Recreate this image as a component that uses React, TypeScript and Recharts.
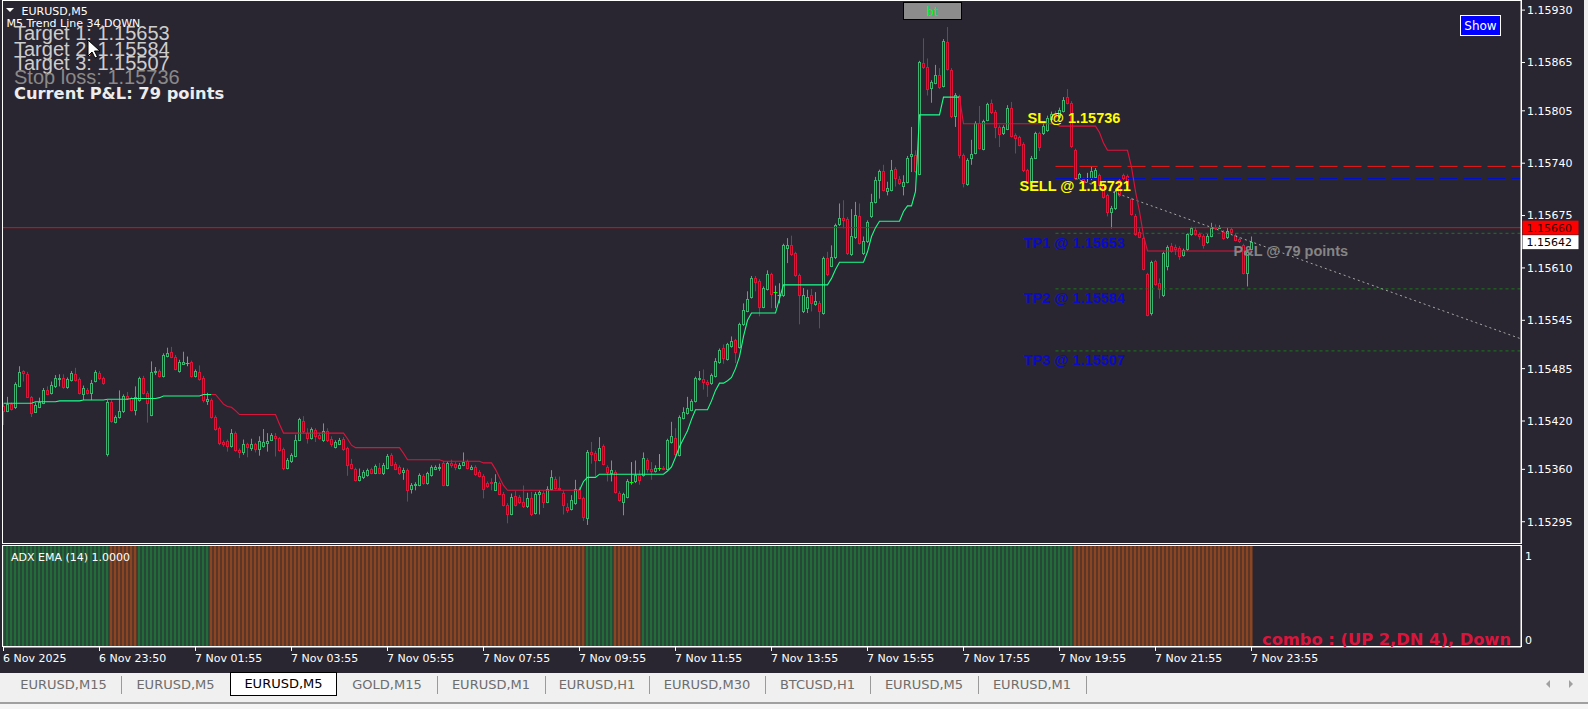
import React from 'react';
import { ComposedChart, Bar, Line, XAxis, YAxis, ReferenceLine, ReferenceDot, Cell } from 'recharts';

// prices are kept in points above 1.15000 (1 point = 0.00001)
const BASE = 1.15;

const opens = [
  439, 433, 441, 437, 464, 482, 478, 450, 431, 438, 442, 458, 455, 463, 472, 474, 462, 471, 478, 472,
  454, 458, 455, 470, 480, 473, 379, 444, 419, 425, 432, 451, 448, 434, 446, 473, 455, 428, 481, 482,
  476, 501, 506, 500, 482, 491, 492, 493, 476, 481, 474, 445, 446, 425, 411, 394, 395, 389, 405, 384,
  382, 391, 387, 391, 385, 389, 393, 397, 401, 399, 385, 362, 370, 377, 397, 420, 405, 399, 409, 403,
  396, 407, 398, 388, 392, 398, 386, 367, 360, 347, 350, 353, 360, 356, 362, 355, 362, 378, 367, 363,
  357, 359, 336, 341, 341, 352, 343, 353, 361, 362, 368, 341, 368, 367, 362, 366, 370, 361, 363, 357,
  352, 343, 344, 335, 343, 330, 316, 305, 327, 326, 320, 314, 324, 306, 330, 331, 320, 336, 348, 337,
  331, 313, 311, 318, 336, 324, 300, 381, 380, 372, 389, 363, 356, 357, 331, 320, 326, 344, 345, 353,
  353, 372, 360, 358, 362, 362, 361, 394, 399, 378, 424, 430, 434, 445, 472, 472, 469, 467, 476, 493,
  511, 497, 513, 520, 512, 540, 557, 574, 598, 594, 562, 584, 602, 580, 576, 576, 635, 638, 628, 601,
  556, 560, 577, 565, 567, 554, 622, 613, 623, 664, 672, 671, 627, 648, 675, 628, 643, 674, 692, 719,
  730, 706, 707, 733, 720, 712, 717, 749, 750, 727, 864, 860, 833, 840, 850, 836, 890, 856, 798, 823,
  750, 714, 746, 753, 790, 758, 794, 815, 804, 785, 777, 783, 808, 775, 772, 764, 731, 717, 747, 777,
  777, 781, 795, 801, 797, 805, 822, 815, 756, 722, 720, 722, 721, 723, 725, 713, 700, 679, 684, 719,
  725, 724, 695, 675, 655, 647, 602, 554, 618, 591, 576, 613, 637, 636, 635, 626, 633, 652, 657, 652,
  650, 642, 650, 661, 660, 655, 648, 658, 651, 646, 638, 604, 634,
];

const highs = [
  441, 450, 443, 468, 488, 483, 481, 451, 443, 449, 461, 463, 469, 477, 478, 478, 474, 482, 486, 474,
  464, 461, 471, 483, 482, 475, 446, 446, 427, 458, 453, 456, 450, 463, 475, 476, 457, 494, 487, 484,
  504, 511, 512, 502, 496, 506, 500, 495, 484, 489, 476, 455, 448, 427, 413, 396, 397, 410, 407, 386,
  397, 393, 398, 393, 401, 410, 405, 405, 405, 400, 387, 374, 380, 403, 424, 426, 411, 412, 411, 405,
  417, 411, 401, 396, 399, 400, 388, 373, 362, 361, 359, 361, 362, 366, 368, 368, 379, 380, 369, 365,
  362, 361, 343, 344, 355, 354, 357, 365, 365, 367, 370, 370, 372, 369, 368, 381, 372, 365, 365, 359,
  354, 345, 349, 354, 345, 332, 318, 330, 333, 328, 340, 331, 332, 332, 334, 333, 339, 359, 351, 351,
  333, 318, 328, 347, 338, 326, 384, 394, 383, 400, 391, 365, 371, 359, 333, 331, 348, 369, 371, 359,
  381, 374, 369, 365, 379, 364, 398, 419, 411, 427, 437, 450, 447, 475, 482, 484, 471, 479, 498, 510,
  515, 517, 525, 522, 542, 566, 581, 600, 600, 596, 587, 607, 604, 588, 591, 640, 647, 650, 630, 603,
  585, 583, 584, 580, 569, 624, 630, 638, 665, 690, 694, 673, 683, 692, 690, 649, 669, 702, 723, 732,
  738, 717, 744, 735, 724, 725, 749, 785, 756, 867, 895, 870, 843, 862, 858, 894, 909, 858, 827, 825,
  752, 746, 769, 792, 811, 794, 815, 819, 806, 787, 787, 812, 816, 777, 774, 766, 733, 749, 779, 779,
  791, 799, 804, 805, 809, 822, 832, 817, 758, 728, 722, 728, 736, 734, 727, 715, 702, 687, 707, 721,
  727, 726, 697, 677, 659, 649, 604, 619, 620, 597, 630, 638, 641, 639, 637, 634, 653, 661, 661, 654,
  652, 652, 666, 664, 663, 657, 660, 660, 653, 648, 640, 632, 649,
];

const lows = [
  415, 431, 433, 435, 462, 469, 449, 425, 430, 436, 441, 452, 453, 461, 463, 460, 460, 469, 469, 453,
  446, 453, 446, 468, 471, 465, 376, 418, 417, 423, 430, 446, 432, 427, 444, 453, 418, 426, 477, 474,
  474, 499, 498, 483, 480, 490, 488, 474, 474, 470, 443, 440, 423, 408, 390, 388, 382, 387, 382, 374,
  378, 375, 383, 381, 377, 387, 382, 395, 376, 382, 359, 360, 368, 375, 395, 405, 392, 397, 394, 397,
  394, 394, 388, 386, 390, 383, 352, 360, 345, 345, 348, 351, 354, 354, 354, 353, 360, 364, 359, 353,
  347, 320, 330, 334, 339, 341, 341, 351, 359, 358, 339, 339, 362, 359, 360, 364, 360, 359, 352, 350,
  324, 337, 334, 333, 328, 314, 293, 303, 314, 317, 312, 312, 302, 304, 304, 312, 318, 334, 335, 334,
  304, 306, 309, 316, 323, 296, 291, 367, 351, 370, 365, 345, 345, 330, 320, 303, 324, 341, 343, 341,
  351, 356, 347, 356, 358, 359, 359, 392, 377, 376, 422, 428, 432, 443, 470, 459, 450, 465, 474, 491,
  491, 495, 511, 492, 510, 538, 555, 572, 581, 550, 560, 582, 560, 560, 566, 574, 616, 625, 599, 540,
  554, 554, 556, 563, 535, 552, 600, 611, 621, 662, 659, 626, 625, 646, 639, 626, 641, 672, 690, 696,
  705, 700, 705, 711, 713, 700, 715, 729, 728, 725, 857, 824, 815, 838, 832, 834, 855, 796, 785, 746,
  710, 712, 738, 751, 757, 756, 792, 801, 771, 760, 775, 781, 772, 752, 761, 729, 715, 715, 745, 755,
  775, 779, 792, 794, 795, 803, 813, 759, 719, 720, 715, 716, 719, 721, 711, 696, 674, 659, 682, 698,
  719, 711, 675, 650, 647, 607, 550, 551, 588, 572, 574, 607, 629, 626, 620, 624, 631, 650, 650, 645,
  634, 640, 648, 657, 659, 645, 646, 653, 643, 641, 602, 587, 632,
];

const closes = [
  433, 441, 435, 466, 481, 480, 450, 430, 440, 444, 459, 454, 465, 473, 473, 462, 472, 479, 471, 455,
  461, 455, 467, 481, 473, 467, 444, 420, 425, 432, 451, 448, 434, 450, 473, 455, 442, 481, 482, 476,
  502, 505, 500, 485, 493, 493, 492, 476, 482, 472, 446, 447, 425, 410, 393, 392, 389, 405, 384, 382,
  391, 388, 392, 385, 395, 394, 395, 403, 399, 384, 362, 372, 378, 397, 422, 407, 399, 410, 402, 399,
  408, 396, 392, 394, 397, 385, 366, 362, 347, 352, 357, 359, 356, 364, 356, 365, 377, 366, 361, 355,
  359, 335, 341, 342, 353, 343, 355, 363, 363, 363, 341, 368, 365, 363, 366, 369, 362, 363, 354, 352,
  336, 339, 343, 344, 330, 316, 305, 326, 316, 319, 314, 325, 305, 330, 332, 319, 336, 350, 337, 336,
  316, 310, 322, 336, 325, 301, 382, 379, 372, 387, 367, 357, 359, 332, 322, 329, 346, 344, 353, 347,
  374, 361, 358, 362, 362, 361, 396, 401, 379, 425, 431, 436, 445, 473, 474, 469, 466, 477, 494, 508,
  498, 515, 519, 506, 540, 558, 572, 597, 593, 562, 585, 602, 578, 580, 576, 638, 638, 627, 601, 576,
  576, 574, 566, 569, 556, 622, 602, 623, 663, 672, 670, 628, 650, 676, 641, 643, 667, 692, 719, 730,
  707, 709, 732, 721, 715, 717, 747, 751, 730, 865, 859, 832, 841, 850, 834, 892, 857, 798, 825, 750,
  715, 744, 752, 790, 759, 792, 813, 803, 785, 776, 785, 809, 774, 771, 763, 731, 717, 747, 777, 760,
  786, 796, 801, 797, 806, 818, 815, 761, 721, 726, 717, 722, 730, 731, 713, 698, 680, 685, 705, 700,
  721, 713, 677, 652, 649, 609, 552, 617, 590, 584, 628, 636, 631, 633, 625, 632, 652, 659, 652, 650,
  638, 650, 660, 659, 661, 647, 656, 655, 645, 643, 604, 630, 642,
];

// "M5 Trend Line 34" value per bar
const trend = [
  442, 442, 442, 442, 442, 442, 442, 442, 444, 444, 444, 444, 444, 444, 445, 445, 445, 445, 445, 445,
  446, 446, 446, 446, 446, 446, 447, 447, 447, 447, 447, 447, 448, 448, 448, 448, 448, 448, 448, 449,
  451, 451, 451, 451, 451, 451, 451, 451, 451, 451, 453, 453, 453, 453, 447, 441, 438, 437, 433, 428,
  428, 428, 428, 428, 428, 428, 428, 428, 428, 416, 405, 405, 405, 405, 405, 405, 405, 405, 405, 405,
  405, 405, 405, 405, 405, 405, 398, 390, 387, 387, 387, 387, 387, 387, 387, 387, 387, 387, 387, 387,
  380, 372, 372, 372, 372, 372, 372, 372, 372, 372, 370, 370, 370, 370, 370, 370, 370, 370, 370, 370,
  368, 368, 368, 360, 350, 340, 334, 334, 334, 334, 334, 334, 334, 334, 334, 334, 334, 334, 334, 334,
  334, 334, 334, 334, 334, 345, 350, 350, 350, 354, 354, 354, 354, 354, 354, 354, 354, 354, 354, 354,
  354, 354, 354, 354, 354, 354, 358, 363, 375, 388, 398, 408, 422, 434, 434, 434, 434, 445, 458, 467,
  467, 470, 474, 485, 500, 525, 545, 554, 554, 554, 554, 554, 554, 554, 572, 589, 589, 589, 589, 589,
  589, 589, 589, 589, 589, 589, 589, 597, 608, 617, 617, 617, 617, 617, 617, 617, 630, 649, 660, 668,
  668, 668, 668, 668, 668, 680, 687, 687, 705, 800, 800, 800, 800, 800, 800, 822, 822, 822, 822, 822,
  789, 789, 789, 789, 789, 789, 789, 789, 789, 789, 789, 789, 789, 789, 789, 789, 789, 789, 789, 789,
  789, 789, 789, 789, 786, 786, 786, 786, 786, 786, 786, 786, 786, 786, 778, 765, 756, 756, 756, 756,
  756, 756, 735, 705, 680, 650, 631, 631, 631, 631, 631, 631, 631, 631, 631, 631, 631, 631, 631, 631,
  631, 631, 631, 631, 631, 631, 631, 631, 631, 631, 631, 631, 631,
];
const trendDownRanges = [[53, 144], [240, 312]];

// ADX EMA histogram state runs (bar index ranges)
const adxRuns = [
  { state: 'up', from: 0, to: 26 },
  { state: 'dn', from: 27, to: 33 },
  { state: 'up', from: 34, to: 51 },
  { state: 'dn', from: 52, to: 145 },
  { state: 'up', from: 146, to: 152 },
  { state: 'dn', from: 153, to: 159 },
  { state: 'up', from: 160, to: 267 },
  { state: 'dn', from: 268, to: 312 },
];

const priceTicks = [1.1593, 1.15865, 1.15805, 1.1574, 1.15675, 1.1561, 1.15545, 1.15485, 1.1542, 1.1536, 1.15295];
const timeTickBars = [0, 24, 48, 72, 96, 120, 144, 168, 192, 216, 240, 264, 288, 312];
const timeTickLabels = [
  '6 Nov 2025', '6 Nov 23:50', '7 Nov 01:55', '7 Nov 03:55', '7 Nov 05:55', '7 Nov 07:55', '7 Nov 09:55',
  '7 Nov 11:55', '7 Nov 13:55', '7 Nov 15:55', '7 Nov 17:55', '7 Nov 19:55', '7 Nov 21:55', '7 Nov 23:55',
];

// trade levels drawn from LEVEL_START to the right edge
const LEVEL_START = 263;
const levels = [
  { name: 'SL', price: 1.15736, color: '#f01818', dash: '18 6' },
  { name: 'SELL', price: 1.15721, color: '#0010d0', dash: '18 6' },
  { name: 'TP1', price: 1.15653, color: '#187a18', dash: '3 3' },
  { name: 'TP2', price: 1.15584, color: '#187a18', dash: '3 3' },
  { name: 'TP3', price: 1.15507, color: '#187a18', dash: '3 3' },
];
const entryTrend = [{ bar: 268, price: 1.15721 }, { bar: 379.375, price: 1.15522 }];
const hLinePrice = 1.1566;
const lastPrice = 1.15642;

const chartLabels = [
  { text: 'SL @ 1.15736', bar: 256, price: 1.1579, color: '#ffff00' },
  { text: 'SELL @ 1.15721', bar: 254, price: 1.15705, color: '#ffff00' },
  { text: 'TP1 @ 1.15653', bar: 255, price: 1.15635, color: '#0b0bc8' },
  { text: 'TP2 @ 1.15584', bar: 255, price: 1.15567, color: '#0b0bc8' },
  { text: 'TP3 @ 1.15507', bar: 255, price: 1.1549, color: '#0b0bc8' },
  { text: 'P&L @ 79 points', bar: 307.5, price: 1.15625, color: '#858585' },
];

const tabs = ['EURUSD,M15', 'EURUSD,M5', 'EURUSD,M5', 'GOLD,M15', 'EURUSD,M1', 'EURUSD,H1', 'EURUSD,M30', 'BTCUSD,H1', 'EURUSD,M5', 'EURUSD,M1'];
const tabWidths = [115, 109, 107, 100, 108, 104, 116, 105, 108, 108];
const activeTab = 2;

const BG = '#2a2631';
const GREEN = '#3cb371';
const RED = '#dc143c';
const DOJI = '#00ff00';
const X_MIN = -0.125;
const X_MAX = 379.375;
const Y_MIN = 1.152686;
const Y_MAX = 1.159413;
const FONT = 'DejaVu Sans';

const px = (pts: number) => +(BASE + pts / 100000).toFixed(5);
const inDown = (i: number) => trendDownRanges.some(([a, b]) => i >= a && i <= b);

const candles = opens.map((o, i) => {
  const down = inDown(i) || inDown(i + 1);
  const up = !inDown(i) || (i + 1 < opens.length && !inDown(i + 1));
  return {
    i,
    o: px(o),
    h: px(highs[i]),
    l: px(lows[i]),
    c: px(closes[i]),
    range: [px(lows[i]), px(highs[i])],
    up: up ? px(trend[i]) : null,
    down: down ? px(trend[i]) : null,
  };
});

const adxData = opens.map((_, i) => {
  const run = adxRuns.find((r) => i >= r.from && i <= r.to);
  return { i, v: 1, state: run ? run.state : 'up' };
});

const Candle = (props: any) => {
  const { x, y, width, height, payload } = props;
  const { o, h, l, c } = payload;
  const cx = Math.round(x + width / 2) + 0.5;
  const k = h > l ? height / (h - l) : 0;
  const yO = y + (h - o) * k;
  const yC = y + (h - c) * k;
  const top = Math.round(Math.min(yO, yC)) + 0.5;
  const bot = Math.round(Math.max(yO, yC)) + 0.5;
  if (o === c) {
    return (
      <g>
        <line x1={cx} x2={cx} y1={y} y2={y + height} stroke={DOJI} />
        <line x1={cx - 2} x2={cx + 2} y1={top} y2={top} stroke={DOJI} />
      </g>
    );
  }
  const col = c > o ? GREEN : RED;
  return (
    <g>
      <line x1={cx} x2={cx} y1={y} y2={top} stroke={col} />
      <line x1={cx} x2={cx} y1={bot} y2={y + height} stroke={col} />
      <rect x={cx - 1} y={top} width={2} height={Math.max(bot - top, 1)} fill={BG} stroke={col} />
    </g>
  );
};

const PriceTag = (props: any) => {
  const { viewBox, price, bg, fg } = props;
  if (!viewBox) return null;
  const x0 = viewBox.x + viewBox.width + 1.5;
  const yy = viewBox.y;
  return (
    <g>
      <rect x={x0} y={yy - 7} width={56} height={14} fill={bg} />
      <text x={x0 + 4} y={yy + 4} fill={fg} fontSize={11} fontFamily={FONT}>{price.toFixed(5)}</text>
    </g>
  );
};

const TimeTick = (props: any) => {
  const { x, y, payload } = props;
  const idx = timeTickBars.indexOf(payload.value);
  return (
    <text x={x - 0.5} y={y + 9} fill="#fff" fontSize={11} fontFamily={FONT}>{timeTickLabels[idx]}</text>
  );
};

const AdxTick = (props: any) => {
  const { x, y, payload } = props;
  return (
    <text x={x + 2} y={payload.value === 1 ? y + 14 : y - 3} fill="#fff" fontSize={11} fontFamily={FONT}>{payload.value}</text>
  );
};

export default function App() {
  let tabX = 6;
  return (
    <div style={{ position: 'relative', width: 1588, height: 709, background: BG, overflow: 'hidden' }}>
      <style>{`body{margin:0;}`}</style>

      {/* main price chart */}
      <div style={{ position: 'absolute', left: 0, top: 0 }}>
        <ComposedChart width={1588} height={545} data={candles} margin={{ top: 1, right: 0, bottom: 2, left: 3 }}>
          <XAxis type="number" dataKey="i" domain={[X_MIN, X_MAX]} allowDataOverflow hide />
          <YAxis
            orientation="right"
            width={67}
            domain={[Y_MIN, Y_MAX]}
            allowDataOverflow
            ticks={priceTicks}
            interval={0}
            tickSize={4}
            tickMargin={2}
            axisLine={{ stroke: '#fff' }}
            tickLine={{ stroke: '#fff' }}
            tick={{ fill: '#fff', fontSize: 11, fontFamily: FONT }}
            tickFormatter={(v: number) => v.toFixed(5)}
          />
          <ReferenceLine
            y={hLinePrice}
            stroke="#ff0000"
            label={(p: any) => <PriceTag {...p} price={hLinePrice} bg="#ff0000" fg="#3a0000" />}
          />
          <ReferenceLine
            y={lastPrice}
            stroke="none"
            strokeOpacity={0}
            label={(p: any) => <PriceTag {...p} price={lastPrice} bg="#ffffff" fg="#000000" />}
          />
          {levels.map((lv) => (
            <ReferenceLine
              key={lv.name}
              segment={[{ x: LEVEL_START, y: lv.price }, { x: X_MAX, y: lv.price }]}
              stroke={lv.color}
              strokeDasharray={lv.dash}
            />
          ))}
          <ReferenceLine
            segment={[{ x: entryTrend[0].bar, y: entryTrend[0].price }, { x: entryTrend[1].bar, y: entryTrend[1].price }]}
            stroke="#a8a8a8"
            strokeDasharray="2 3"
          />
          <Line dataKey="up" stroke="#19ff8a" strokeWidth={1.1} dot={false} activeDot={false} connectNulls={false} isAnimationActive={false} />
          <Line dataKey="down" stroke={RED} strokeWidth={1.1} dot={false} activeDot={false} connectNulls={false} isAnimationActive={false} />
          <Bar dataKey="range" barSize={3} shape={<Candle />} isAnimationActive={false} />
          {chartLabels.map((lb) => (
            <ReferenceDot
              key={lb.text}
              x={lb.bar}
              y={lb.price}
              r={1}
              shape={(p: any) => (
                <text x={p.cx} y={p.cy} fill={lb.color} fontSize={14.5} fontWeight="bold" fontFamily="Liberation Sans">{lb.text}</text>
              )}
            />
          ))}
        </ComposedChart>
      </div>

      {/* ADX EMA panel */}
      <div style={{ position: 'absolute', left: 0, top: 545 }}>
        <ComposedChart width={1588} height={128} data={adxData} margin={{ top: 1, right: 0, bottom: 0, left: 3 }}>
          <XAxis
            type="number"
            dataKey="i"
            domain={[X_MIN, X_MAX]}
            allowDataOverflow
            ticks={timeTickBars}
            interval={0}
            height={26}
            tickSize={4}
            axisLine={{ stroke: '#fff' }}
            tickLine={{ stroke: '#fff' }}
            tick={<TimeTick />}
          />
          <YAxis orientation="right" width={67} domain={[0, 1]} ticks={[0, 1]} interval={0} tickSize={0} tickLine={false} axisLine={{ stroke: '#fff' }} tick={<AdxTick />} />
          <Bar dataKey="v" barSize={3} isAnimationActive={false}>
            {adxData.map((d) => (
              <Cell key={d.i} fill={d.state === 'up' ? '#246b3c' : '#8a4622'} />
            ))}
          </Bar>
        </ComposedChart>
      </div>

      {/* frames and on-chart text */}
      <svg width={1588} height={709} style={{ position: 'absolute', left: 0, top: 0, pointerEvents: 'none' }}>
        <rect x={2.5} y={0.5} width={1519} height={543} fill="none" stroke="#fff" />
        <rect x={2.5} y={545.5} width={1519} height={101} fill="none" stroke="#fff" />
        <rect x={1584} y={0} width={4} height={673} fill="#f0f0f0" />

        <path d="M6 8 L14 8 L10 12 Z" fill="#fff" />
        <text x={21.5} y={14.5} fill="#fff" fontSize={11} fontFamily={FONT}>EURUSD,M5</text>
        <text x={6.5} y={27} fill="#fff" fontSize={11} fontFamily={FONT}>M5 Trend Line 34,DOWN</text>
        <text x={14} y={40} fill="#cdcdcd" fontSize={20} fontFamily="Liberation Sans">Target 1: 1.15653</text>
        <text x={14} y={55.5} fill="#cdcdcd" fontSize={20} fontFamily="Liberation Sans">Target 2: 1.15584</text>
        <text x={14} y={70} fill="#cdcdcd" fontSize={20} fontFamily="Liberation Sans">Target 3: 1.15507</text>
        <text x={14} y={84} fill="#8a8a8a" fontSize={20} fontFamily="Liberation Sans">Stop loss: 1.15736</text>
        <text x={14} y={99} fill="#ececec" fontSize={16.3} fontWeight="bold" fontFamily={FONT}>Current P&amp;L: 79 points</text>

        <rect x={903.5} y={2.5} width={58} height={17} fill="#8c8c8c" stroke="#000" />
        <text x={932.5} y={15.5} fill="#00ff00" fontSize={12} fontFamily={FONT} textAnchor="middle">bt</text>

        <rect x={1460.5} y={15.5} width={40} height={20} fill="#0000ff" stroke="#fff" />
        <text x={1480.5} y={29.5} fill="#fff" fontSize={12} fontFamily={FONT} textAnchor="middle">Show</text>

        <text x={11} y={561} fill="#fff" fontSize={11} fontFamily={FONT}>ADX EMA (14) 1.0000</text>
        <text x={1262} y={645} fill="#dc143c" fontSize={15} fontWeight="bold" fontFamily={FONT} textLength={249} lengthAdjust="spacingAndGlyphs">combo : (UP 2,DN 4), Down</text>

        <path d="M88 40 L88 56 L92 52 L95 58 L97.5 57 L94.5 51 L100 51 Z" fill="#fff" stroke="#000" strokeWidth={1} />

        <rect x={0} y={673} width={1588} height={29} fill="#f0f0f0" />
        <rect x={0} y={702} width={1588} height={2} fill="#a0a0a0" />
        <rect x={0} y={704} width={1588} height={5} fill="#f5f5f5" />
        <path d="M1550 680 L1546 684 L1550 688 Z" fill="#a0a0a0" />
        <path d="M1569 680 L1573 684 L1569 688 Z" fill="#a0a0a0" />
      </svg>

      {/* symbol tabs */}
      <div style={{ position: 'absolute', left: 0, top: 672, height: 26, width: 1588 }}>
        {tabs.map((t, k) => {
          const left = tabX;
          tabX += tabWidths[k];
          const active = k === activeTab;
          return (
            <React.Fragment key={k}>
              <div
                style={{
                  position: 'absolute',
                  left,
                  top: active ? 0 : 1,
                  width: tabWidths[k],
                  height: 24,
                  boxSizing: 'border-box',
                  background: active ? '#fff' : 'transparent',
                  border: active ? '1px solid #000' : 'none',
                  color: active ? '#000' : '#6d6d6d',
                  fontFamily: FONT,
                  fontSize: 13,
                  lineHeight: active ? '22px' : '24px',
                  textAlign: 'center',
                }}
              >
                {t}
              </div>
              {!active && k + 1 !== activeTab && (
                <div style={{ position: 'absolute', left: left + tabWidths[k], top: 4, width: 1, height: 18, background: '#9a9a9a' }} />
              )}
            </React.Fragment>
          );
        })}
      </div>
    </div>
  );
}
